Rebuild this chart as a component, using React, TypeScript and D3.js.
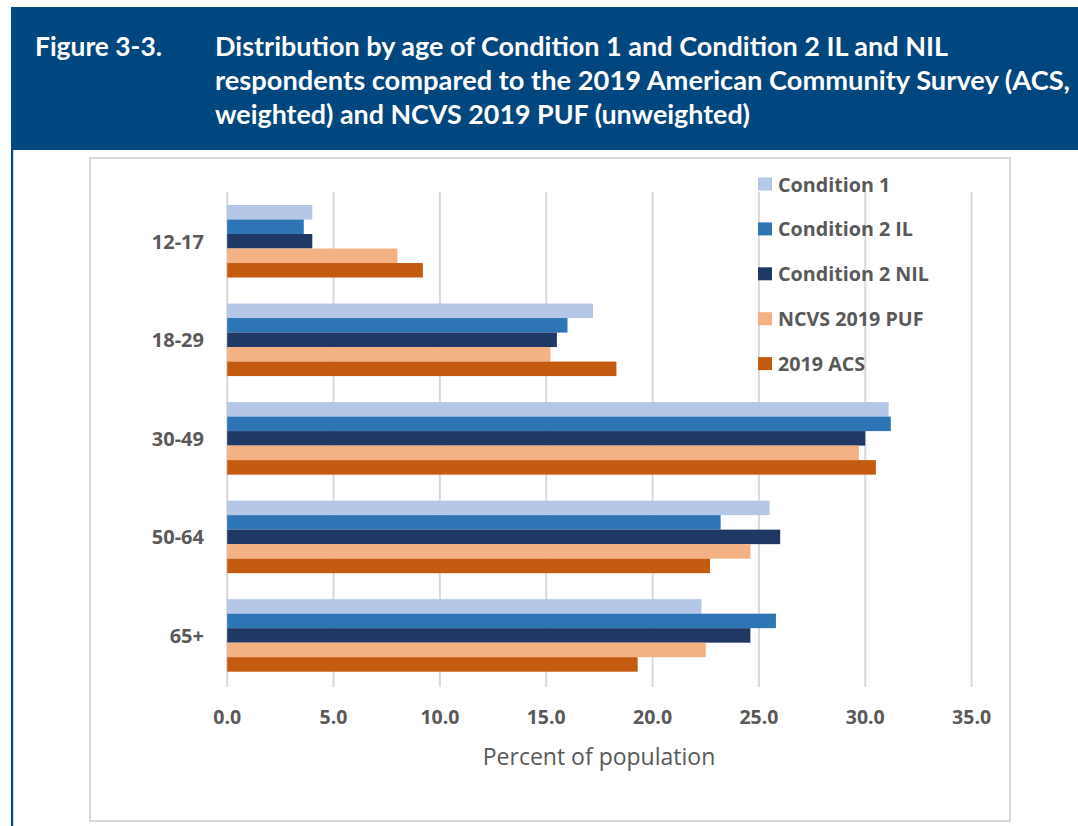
import React from "react";
import * as d3 from "d3";

const categories = ["12-17", "18-29", "30-49", "50-64", "65+"];
const seriesNames = ["Condition 1", "Condition 2 IL", "Condition 2 NIL", "NCVS 2019 PUF", "2019 ACS"];
const condition1 = [4.0, 17.2, 31.1, 25.5, 22.3];
const condition2IL = [3.6, 16.0, 31.2, 23.2, 25.8];
const condition2NIL = [4.0, 15.5, 30.0, 26.0, 24.6];
const ncvs2019PUF = [8.0, 15.2, 29.7, 24.6, 22.5];
const acs2019 = [9.2, 18.3, 30.5, 22.7, 19.3];
const seriesColors = ["#B4C7E7", "#2E75B6", "#203864", "#F4B183", "#C55A11"];
const xTicks = [0, 5, 10, 15, 20, 25, 30, 35];
const titleLabel = "Figure 3-3.";
const titleLines = [
  "Distribution by age of Condition 1 and Condition 2 IL and NIL",
  "respondents compared to the 2019 American Community Survey (ACS,",
  "weighted) and NCVS 2019 PUF (unweighted)",
];
const xAxisTitle = "Percent of population";

const seriesValues = [condition1, condition2IL, condition2NIL, ncvs2019PUF, acs2019];

export default function App() {
  const W = 1078;
  const H = 826;
  const x = d3.scaleLinear().domain([0, 35]).range([227.2, 971.6]);
  const y = d3
    .scaleBand<string>()
    .domain(categories)
    .range([192, 684.7])
    .paddingInner(0.264)
    .paddingOuter(0.132);
  const ys = d3
    .scaleBand<string>()
    .domain(seriesNames)
    .range([0, y.bandwidth()])
    .padding(0);

  const titleWidths = [733, 855, 535];
  const grey = "#595959";
  const font = "'Open Sans', sans-serif";

  return (
    <div style={{ position: "absolute", left: 0, top: 0 }}>
      <svg width={W} height={H} style={{ display: "block" }}>
        <rect x={0} y={0} width={W} height={H} fill="#fff" />
        {/* header */}
        <rect x={11} y={7} width={W - 11} height={143} fill="#00467F" />
        <rect x={11} y={7} width={2.2} height={H - 7} fill="#004A88" />
        <text
          x={35}
          y={56}
          fill="#fff"
          fontFamily="Lato, sans-serif"
          fontWeight={700}
          fontSize={26}
          textLength={127}
          lengthAdjust="spacingAndGlyphs"
        >
          {titleLabel}
        </text>
        {titleLines.map((t, i) => (
          <text
            key={i}
            x={215}
            y={56 + i * 34}
            fill="#fff"
            fontFamily="Lato, sans-serif"
            fontWeight={700}
            fontSize={26}
            textLength={titleWidths[i]}
            lengthAdjust="spacingAndGlyphs"
          >
            {t}
          </text>
        ))}

        {/* chart box */}
        <rect x={90} y={158} width={920} height={663} fill="#fff" stroke="#D9D9D9" strokeWidth={2} />

        {/* gridlines */}
        {xTicks.map((t) => (
          <line
            key={t}
            x1={x(t)}
            x2={x(t)}
            y1={192}
            y2={687}
            stroke="#D9D9D9"
            strokeWidth={2}
          />
        ))}

        {/* bars */}
        {categories.map((c, ci) => (
          <g key={c} transform={`translate(0,${y(c)})`}>
            {seriesNames.map((s, si) => (
              <rect
                key={s}
                x={x(0)}
                y={ys(s)}
                width={x(seriesValues[si][ci]) - x(0)}
                height={ys.bandwidth()}
                fill={seriesColors[si]}
              />
            ))}
          </g>
        ))}

        {/* category labels */}
        {categories.map((c) => (
          <text
            key={c}
            x={204}
            y={(y(c) as number) + y.bandwidth() / 2}
            textAnchor="end"
            dominantBaseline="central"
            fill={grey}
            fontFamily={font}
            fontWeight={700}
            fontSize={20}
          >
            {c}
          </text>
        ))}

        {/* x tick labels */}
        {xTicks.map((t) => (
          <text
            key={t}
            x={x(t)}
            y={724}
            textAnchor="middle"
            fill={grey}
            fontFamily={font}
            fontWeight={700}
            fontSize={19.5}
          >
            {d3.format(".1f")(t)}
          </text>
        ))}

        {/* axis title */}
        <text
          x={599}
          y={765}
          textAnchor="middle"
          fill={grey}
          fontFamily={font}
          fontWeight={400}
          fontSize={23}
        >
          {xAxisTitle}
        </text>

        {/* legend */}
        {seriesNames.map((s, i) => {
          const cy = 184 + i * 44.9;
          return (
            <g key={s}>
              <rect x={758} y={cy - 6.5} width={14} height={13} fill={seriesColors[i]} />
              <text
                x={778}
                y={cy}
                dominantBaseline="central"
                fill={grey}
                fontFamily={font}
                fontWeight={700}
                fontSize={19.7}
              >
                {s}
              </text>
            </g>
          );
        })}
      </svg>
    </div>
  );
}
